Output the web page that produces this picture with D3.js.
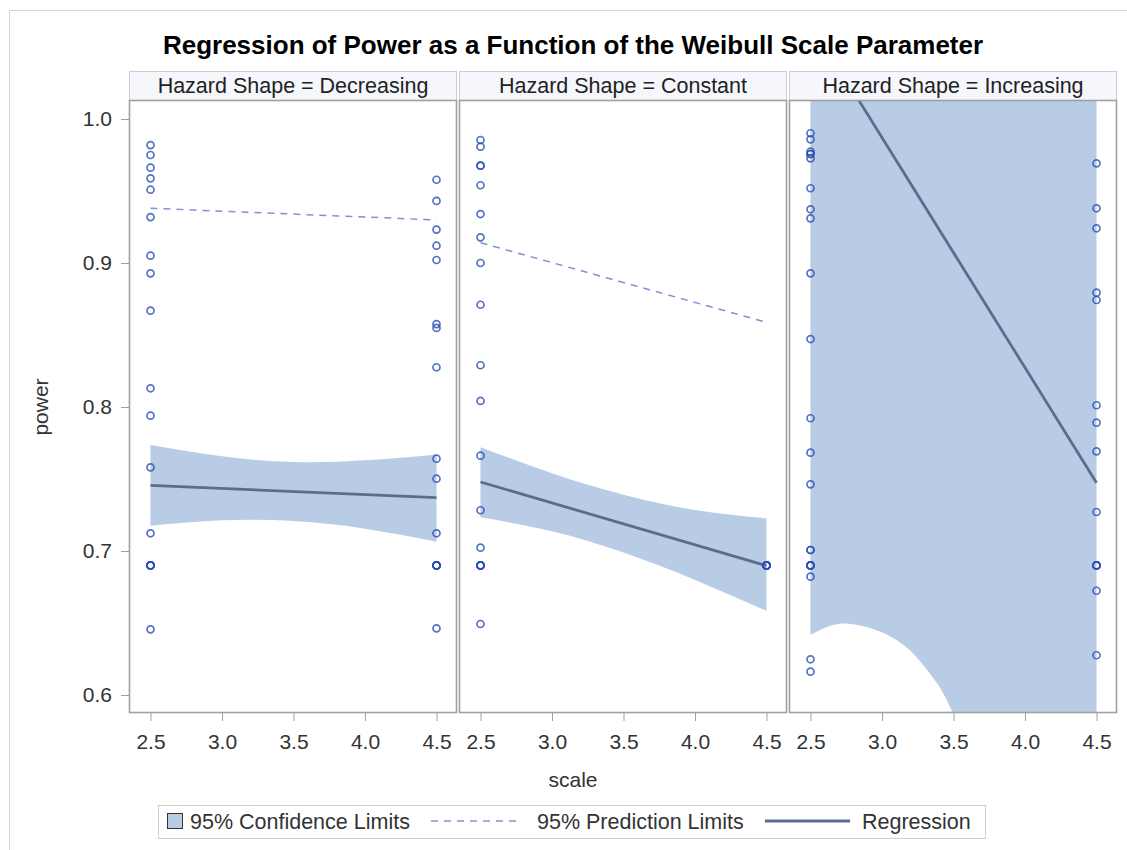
<!DOCTYPE html>
<html>
<head>
<meta charset="utf-8">
<script src="https://cdn.jsdelivr.net/npm/d3@7"></script>
<style>
  html, body { margin: 0; padding: 0; background: #ffffff; }
  svg { display: block; font-family: "Liberation Sans", Arial, sans-serif; }
</style>
</head>
<body>
<svg id="chart" width="1127" height="850"></svg>
<script>
// Panel categories and tick values
const hazardShapes = ["Decreasing", "Constant", "Increasing"];
const scaleTicks = [2.5, 3.0, 3.5, 4.0, 4.5];
const powerTicks = [0.6, 0.7, 0.8, 0.9, 1.0];

// Observed power at scale 2.5 and 4.5 for each hazard shape
const decreasingAt25 = [0.9819, 0.975, 0.9662, 0.9588, 0.9509, 0.9319, 0.9051, 0.8928, 0.8669,
  0.813, 0.794, 0.7581, 0.7123, 0.69, 0.69, 0.69, 0.69, 0.69, 0.6456];
const decreasingAt45 = [0.9578, 0.9431, 0.9232, 0.912, 0.9021, 0.8576, 0.8549, 0.8276,
  0.7641, 0.7502, 0.7123, 0.69, 0.69, 0.69, 0.69, 0.69, 0.6463];
const constantAt25 = [0.9854, 0.9808, 0.9676, 0.9676, 0.954, 0.934, 0.9178, 0.9, 0.871, 0.829,
  0.8042, 0.7662, 0.7283, 0.7023, 0.69, 0.69, 0.69, 0.69, 0.69, 0.6493];
const constantAt45 = [0.69, 0.69, 0.69, 0.69, 0.69, 0.69, 0.69, 0.69];
const increasingAt25 = [0.9901, 0.9859, 0.9773, 0.9757, 0.9757, 0.9727, 0.9519, 0.9373, 0.931,
  0.8928, 0.8472, 0.7922, 0.7683, 0.7463, 0.7007, 0.7007, 0.69, 0.69, 0.69, 0.69, 0.69,
  0.6822, 0.6248, 0.6162];
const increasingAt45 = [0.9692, 0.938, 0.9241, 0.8794, 0.8743, 0.8012, 0.7891, 0.7692, 0.7271,
  0.69, 0.69, 0.69, 0.69, 0.6724, 0.6276];

// Fitted regression line (at scale 2.5 and 4.5)
const regScale = [2.5, 4.5];
const regDecreasing = [0.7456, 0.737];
const regConstant = [0.7479, 0.6898];
const regIncreasing = [1.067, 0.7474];

// 95% prediction limits (at scale 2.5 and 4.5)
const predUpperDecreasing = [0.938, 0.9299];
const predLowerDecreasing = [0.5532, 0.5441];
const predUpperConstant = [0.9141, 0.8588];
const predLowerConstant = [0.5817, 0.5208];
const predUpperIncreasing = [1.567, 1.27];
const predLowerIncreasing = [0.567, 0.225];

// 95% confidence limits
const confScale = [2.5, 3.0, 3.5, 4.0, 4.5];
const confUpperDecreasing = [0.7736, 0.7658, 0.7618, 0.763, 0.7671];
const confLowerDecreasing = [0.7176, 0.7213, 0.7208, 0.7155, 0.7065];
const confUpperConstant = [0.772, 0.754, 0.7391, 0.7285, 0.7227];
const confLowerConstant = [0.7234, 0.7137, 0.6989, 0.6799, 0.6585];
const confScaleIncreasing = [2.5, 2.65, 2.8, 3.0, 3.2, 3.35, 3.5, 3.75, 4.0, 4.5];
const confUpperIncreasing = [1.49, 1.45, 1.41, 1.33, 1.28, 1.25, 1.23, 1.21, 1.2, 1.2];
const confLowerIncreasing = [0.6417, 0.6484, 0.6492, 0.6435, 0.6305, 0.6128, 0.5865, 0.525, 0.46, 0.3];

const panels = [
  { shape: hazardShapes[0], at25: decreasingAt25, at45: decreasingAt45, reg: regDecreasing,
    predUpper: predUpperDecreasing, predLower: predLowerDecreasing,
    confX: confScale, confUpper: confUpperDecreasing, confLower: confLowerDecreasing },
  { shape: hazardShapes[1], at25: constantAt25, at45: constantAt45, reg: regConstant,
    predUpper: predUpperConstant, predLower: predLowerConstant,
    confX: confScale, confUpper: confUpperConstant, confLower: confLowerConstant },
  { shape: hazardShapes[2], at25: increasingAt25, at45: increasingAt45, reg: regIncreasing,
    predUpper: predUpperIncreasing, predLower: predLowerIncreasing,
    confX: confScaleIncreasing, confUpper: confUpperIncreasing, confLower: confLowerIncreasing }
];

// Style
const colors = {
  band: "#b8cce6",
  marker: "#2a4fb4",
  reg: "#5b6d8e",
  pred: "#7e93d6",
  frame: "#a0a0a0",
  header: "#f6f7fc",
  text: "#333333"
};

// Layout
const svg = d3.select("#chart");
const panelLeft = 129, panelWidth = 328, panelStep = 330;
const headerTop = 71, plotTop = 100, plotBottom = 713;

const y = d3.scaleLinear().domain([0.6, 1.0]).range([695, 119]);

// Outer frame
svg.append("path")
  .attr("d", "M9.5,850 V10.5 H1127")
  .attr("fill", "none").attr("stroke", "#d6d6d6").attr("stroke-width", 1);

// Title
svg.append("text")
  .attr("x", 573).attr("y", 54)
  .attr("text-anchor", "middle")
  .attr("font-size", 26).attr("font-weight", "bold").attr("fill", "#000")
  .text("Regression of Power as a Function of the Weibull Scale Parameter");

panels.forEach((p, i) => {
  const g = svg.append("g").attr("transform", `translate(${panelLeft + i * panelStep},0)`);
  const x = d3.scaleLinear().domain([2.5, 4.5]).range([21.5, 307.5]);

  const clipId = "clip" + i;
  svg.append("clipPath").attr("id", clipId)
    .append("rect").attr("x", 0).attr("y", plotTop)
    .attr("width", panelWidth).attr("height", plotBottom - plotTop);

  // Header strip
  g.append("rect")
    .attr("x", 0.5).attr("y", headerTop + 0.5)
    .attr("width", panelWidth - 1).attr("height", plotTop - headerTop)
    .attr("fill", colors.header).attr("stroke", "#cdcdcd");
  g.append("text")
    .attr("x", panelWidth / 2).attr("y", 93)
    .attr("text-anchor", "middle").attr("font-size", 21.5).attr("fill", "#222")
    .text(`Hazard Shape = ${p.shape}`);

  const plot = g.append("g").attr("clip-path", `url(#${clipId})`);

  // Confidence band
  const band = p.confX.map((s, k) => ({ s, hi: p.confUpper[k], lo: p.confLower[k] }));
  plot.append("path")
    .datum(band)
    .attr("fill", colors.band)
    .attr("d", d3.area().curve(d3.curveNatural)
      .x(d => x(d.s)).y0(d => y(d.lo)).y1(d => y(d.hi)));

  // Prediction limits
  [p.predUpper, p.predLower].forEach(vals => {
    plot.append("path")
      .datum(regScale.map((s, k) => [s, vals[k]]))
      .attr("fill", "none").attr("stroke", colors.pred)
      .attr("stroke-width", 1.5).attr("stroke-dasharray", "7,6")
      .attr("d", d3.line().x(d => x(d[0])).y(d => y(d[1])));
  });

  // Regression line
  plot.append("path")
    .datum(regScale.map((s, k) => [s, p.reg[k]]))
    .attr("fill", "none").attr("stroke", colors.reg).attr("stroke-width", 2.8)
    .attr("d", d3.line().x(d => x(d[0])).y(d => y(d[1])));

  // Observations
  const pts = p.at25.map(v => [2.5, v]).concat(p.at45.map(v => [4.5, v]));
  plot.selectAll("circle.obs").data(pts).join("circle")
    .attr("class", "obs")
    .attr("cx", d => x(d[0])).attr("cy", d => y(d[1])).attr("r", 3.5)
    .attr("fill", "none").attr("stroke", colors.marker)
    .attr("stroke-width", 1.7).attr("stroke-opacity", 0.8);

  // Panel border
  g.append("rect")
    .attr("x", 0.5).attr("y", plotTop + 0.5)
    .attr("width", panelWidth - 1).attr("height", plotBottom - plotTop - 1)
    .attr("fill", "none").attr("stroke", colors.frame).attr("stroke-width", 1.6);

  // X axis
  const xAxis = g.append("g").attr("transform", `translate(0,${plotBottom})`)
    .call(d3.axisBottom(x).tickValues(scaleTicks).tickFormat(d3.format(".1f"))
      .tickSize(8).tickSizeOuter(0).tickPadding(13));
  xAxis.select(".domain").remove();
  xAxis.selectAll(".tick line").attr("stroke", colors.frame);
  xAxis.selectAll(".tick text").attr("font-size", 21).attr("fill", colors.text)
    .attr("font-family", "Liberation Sans, Arial, sans-serif");

  if (i === 0) {
    const yAxis = g.append("g")
      .call(d3.axisLeft(y).tickValues(powerTicks).tickFormat(d3.format(".1f"))
        .tickSize(8).tickSizeOuter(0).tickPadding(9));
    yAxis.select(".domain").remove();
    yAxis.selectAll(".tick line").attr("stroke", colors.frame);
    yAxis.selectAll(".tick text").attr("font-size", 21).attr("fill", colors.text)
      .attr("font-family", "Liberation Sans, Arial, sans-serif");
  }
});

// Axis labels
svg.append("text")
  .attr("x", 573).attr("y", 787)
  .attr("text-anchor", "middle").attr("font-size", 21).attr("fill", colors.text)
  .text("scale");
svg.append("text")
  .attr("transform", "translate(48,407) rotate(-90)")
  .attr("text-anchor", "middle").attr("font-size", 21).attr("fill", colors.text)
  .text("power");

// Legend
const legend = svg.append("g");
legend.append("rect")
  .attr("x", 158.5).attr("y", 805.5).attr("width", 827).attr("height", 33)
  .attr("fill", "#fff").attr("stroke", "#cfcfcf");
legend.append("rect")
  .attr("x", 167.5).attr("y", 813.5).attr("width", 15).attr("height", 15)
  .attr("fill", colors.band).attr("stroke", "#333").attr("stroke-width", 1);
legend.append("text").attr("x", 190).attr("y", 829)
  .attr("font-size", 21.5).attr("fill", colors.text).text("95% Confidence Limits");
legend.append("line")
  .attr("x1", 431).attr("x2", 516).attr("y1", 821).attr("y2", 821)
  .attr("stroke", colors.pred).attr("stroke-width", 1.5).attr("stroke-dasharray", "7,6");
legend.append("text").attr("x", 537).attr("y", 829)
  .attr("font-size", 21.5).attr("fill", colors.text).text("95% Prediction Limits");
legend.append("line")
  .attr("x1", 765).attr("x2", 850).attr("y1", 821).attr("y2", 821)
  .attr("stroke", colors.reg).attr("stroke-width", 2.8);
legend.append("text").attr("x", 862).attr("y", 829)
  .attr("font-size", 21.5).attr("fill", colors.text).text("Regression");
</script>
</body>
</html>
